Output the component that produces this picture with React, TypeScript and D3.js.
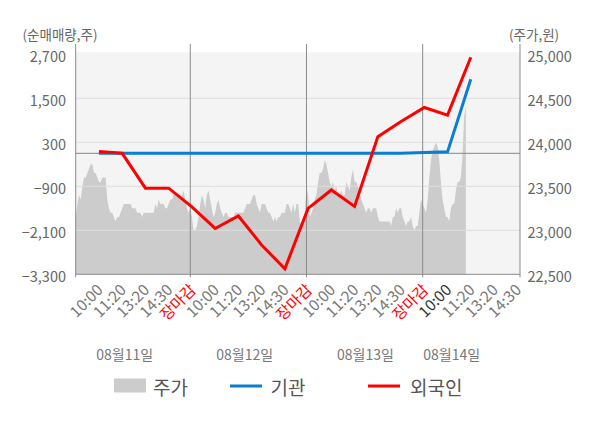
import React from 'react';
import * as d3 from 'd3';

// ---------- data ----------
const timeLabels = ['10:00', '11:20', '13:20', '14:30', '장마감'];
const dateLabels = ['08월11일', '08월12일', '08월13일', '08월14일'];
const leftTicks = [-3300, -2100, -900, 300, 1500, 2700];
const rightTicks = [22500, 23000, 23500, 24000, 24500, 25000];

// net buying (shares) at each time label slot
const foreignNet = [50, 0, -950, -950, -1460, -2050, -1710, -2500, -3150, -1500, -1000, -1450, 450, 870, 1250, 1040, 2620];
const institutionNet = [0, 0, 0, 0, 0, 0, 0, 0, 0, 0, 0, 0, 0, 0, 20, 40, 2020];

// intraday stock price (won), 70 samples per trading day
const priceDay1 = [
  23150, 23150, 23300, 23400, 23350, 23500, 23600, 23600, 23650, 23700,
  23750, 23750, 23650, 23650, 23600, 23550, 23550, 23600, 23600, 23600,
  23350, 23250, 23200, 23200, 23150, 23100, 23150, 23150, 23200, 23250,
  23300, 23300, 23300, 23300, 23300, 23250, 23250, 23250, 23200, 23200,
  23200, 23150, 23200, 23200, 23200, 23200, 23200, 23200, 23200, 23300,
  23250, 23350, 23300, 23300, 23300, 23250, 23250, 23300, 23350, 23350,
  23400, 23400, 23400, 23400, 23350, 23400, 23450, 23350, 23250, 23200,
];
const priceDay2 = [
  23250, 23150, 23000, 23000, 23050, 23150, 23300, 23400, 23350, 23250,
  23400, 23450, 23350, 23250, 23150, 23200, 23300, 23350, 23250, 23200,
  23150, 23200, 23200, 23150, 23150, 23150, 23150, 23200, 23200, 23200,
  23200, 23200, 23200, 23250, 23300, 23300, 23300, 23350, 23400, 23400,
  23300, 23250, 23200, 23300, 23300, 23300, 23250, 23200, 23200, 23150,
  23100, 23150, 23100, 23150, 23150, 23200, 23200, 23200, 23300, 23300,
  23250, 23200, 23300, 23200, 23300, 23300, 23100, 23050, 23100, 23200,
];
const priceDay3 = [
  23500, 23400, 23150, 23200, 23250, 23350, 23400, 23550, 23650, 23650,
  23700, 23800, 23750, 23650, 23550, 23500, 23550, 23450, 23500, 23400,
  23400, 23450, 23400, 23400, 23550, 23500, 23450, 23600, 23700, 23550,
  23550, 23500, 23450, 23350, 23300, 23250, 23200, 23250, 23250, 23200,
  23250, 23250, 23250, 23150, 23100, 23100, 23100, 23100, 23100, 23100,
  23100, 23050, 23150, 23150, 23250, 23200, 23250, 23250, 23150, 23100,
  23050, 23100, 23100, 23150, 23050, 23000, 23050, 23050, 23200, 23350,
];
const priceDay4 = [
  23300, 23250, 23200, 23350, 23600, 23800, 23900, 23950, 24000, 23950,
  23800, 23550, 23350, 23250, 23150, 23150, 23100, 23250, 23300, 23300,
  23450, 23550, 23550, 23600, 23850, 24300, 24400,
];
const priceDays = [priceDay1, priceDay2, priceDay3, priceDay4];

// ---------- layout ----------
const W = 600;
const H = 428;
const L = 75.7;
const R = 520;
const T = 54.3;
const B = 274.3;
const SLOT = 23.24;
const SLOTS_PER_DAY = 5;
const SAMPLES_PER_DAY = 70;
const DAY_OFFSET = -0.07;
const DATE_POS = [2.11, 7.27, 12.47, 16.18];
const FONT = '"Noto Sans CJK KR", "Noto Sans", sans-serif';
const BLUE = '#0a7ed0';
const RED = '#ff0000';

export default function App() {
  const x = d3.scaleLinear().domain([0, 1]).range([L, L + SLOT]);
  const yL = d3.scaleLinear().domain([-3300, 2700]).range([B, T]);
  const yR = d3.scaleLinear().domain([22500, 25000]).range([B, T]);

  const pricePts = priceDays.flatMap((arr, d) =>
    arr.map((p, k) => ({ s: DAY_OFFSET + ((d * SAMPLES_PER_DAY + k) * SLOTS_PER_DAY) / SAMPLES_PER_DAY, p }))
  );
  const areaPath = d3
    .area<{ s: number; p: number }>()
    .x((d) => x(d.s))
    .y0(B)
    .y1((d) => yR(d.p))(pricePts) || '';

  const linePts = (vals: number[]) => vals.map((v, i) => ({ s: i + 1, v }));
  const lineGen = d3
    .line<{ s: number; v: number }>()
    .x((d) => x(d.s))
    .y((d) => yL(d.v));

  const xLabels: { s: number; text: string; kind: string }[] = [];
  dateLabels.forEach((_, d) => {
    timeLabels.forEach((t, j) => {
      const s = d * SLOTS_PER_DAY + j + 1;
      if (x(s) > R + 1) return;
      xLabels.push({ s, text: t, kind: j === 4 ? 'close' : d === 3 && j === 0 ? 'current' : 'normal' });
    });
  });

  const separators = [1, 2, 3].map((d) => x(d * SLOTS_PER_DAY + DAY_OFFSET));
  const gridVals = leftTicks.filter((v) => v !== -3300 && v !== 2700);

  return (
    <svg width={W} height={H} style={{ position: 'absolute', left: 0, top: 0, background: '#fff' }} fontFamily={FONT}>
      <defs>
        <clipPath id="plotClip">
          <rect x={L} y={T - 2} width={R - L} height={B - T + 2} />
        </clipPath>
      </defs>
      {/* plot background */}
      <rect x={L} y={T - 2} width={R - L} height={B - T + 2} fill="#f4f4f4" />
      {/* price area */}
      <path d={areaPath} fill="#cccccc" clipPath="url(#plotClip)" />
      {/* gridlines */}
      {gridVals.map((v) => (
        <line key={v} x1={L} x2={R} y1={yL(v)} y2={yL(v)} stroke="#dedede" strokeWidth={1} />
      ))}
      {/* zero line */}
      <line x1={L} x2={R} y1={yL(0)} y2={yL(0)} stroke="#858585" strokeWidth={1} />
      {/* day separators */}
      {separators.map((sx, i) => (
        <line key={i} x1={sx} x2={sx} y1={44} y2={B + 3} stroke="#8a8a8a" strokeWidth={1} />
      ))}
      {/* axes */}
      <line x1={L} x2={L} y1={44} y2={B + 3} stroke="#8a8a8a" strokeWidth={1} />
      <line x1={R} x2={R} y1={44} y2={B + 3} stroke="#8a8a8a" strokeWidth={1} />
      <line x1={L} x2={R} y1={B} y2={B} stroke="#8a8a8a" strokeWidth={1} />

      {/* series lines */}
      <path d={lineGen(linePts(institutionNet)) || ''} fill="none" stroke={BLUE} strokeWidth={3} />
      <path d={lineGen(linePts(foreignNet)) || ''} fill="none" stroke={RED} strokeWidth={3} />

      {/* left axis labels */}
      {leftTicks.map((v) => (
        <text key={v} x={66} y={yL(v) + 1} textAnchor="end" dominantBaseline="central" fontSize={14.5} fill="#666">
          {d3.format(',')(v)}
        </text>
      ))}
      {/* right axis labels */}
      {rightTicks.map((v) => (
        <text key={v} x={527.5} y={yR(v) + 1} textAnchor="start" dominantBaseline="central" fontSize={14.5} fill="#666">
          {d3.format(',')(v)}
        </text>
      ))}
      {/* axis titles */}
      <text x={22.5} y={33.5} dominantBaseline="central" fontSize={13.5} fill="#666">(순매매량,주)</text>
      <text x={509} y={33.5} dominantBaseline="central" fontSize={13.5} fill="#666">(주가,원)</text>

      {/* x labels */}
      {xLabels.map((l, i) => (
        <text
          key={i}
          transform={`translate(${x(l.s) + 5},${291}) rotate(-45)`}
          textAnchor="end"
          fontSize={15.5}
          fill={l.kind === 'close' ? RED : l.kind === 'current' ? '#333' : '#777'}
        >
          {l.text}
        </text>
      ))}
      {/* date labels */}
      {dateLabels.map((t, i) => (
        <text key={t} x={x(DATE_POS[i])} y={353.5} textAnchor="middle" dominantBaseline="central" fontSize={14} fill="#777">
          {t}
        </text>
      ))}

      {/* legend */}
      <rect x={114} y={378.5} width={32} height={14} fill="#cccccc" />
      <text x={153} y={386.5} dominantBaseline="central" fontSize={19} fill="#555">주가</text>
      <line x1={230} x2={262} y1={386} y2={386} stroke={BLUE} strokeWidth={3} />
      <text x={270.5} y={386.5} dominantBaseline="central" fontSize={19} fill="#555">기관</text>
      <line x1={368} x2={400} y1={386} y2={386} stroke={RED} strokeWidth={3} />
      <text x={410} y={386.5} dominantBaseline="central" fontSize={19} fill="#555">외국인</text>
    </svg>
  );
}
